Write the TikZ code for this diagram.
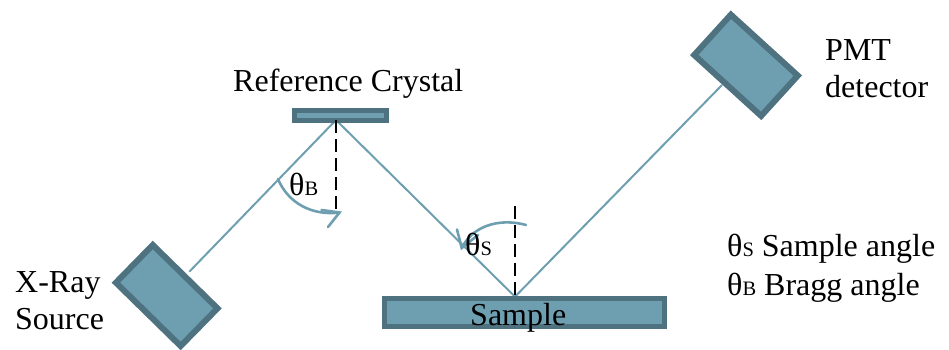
\documentclass[tikz,border=0pt]{standalone}
\usepackage{fontspec}
\setmainfont{Liberation Serif}
\definecolor{bfill}{HTML}{6E9FB0}
\definecolor{bedge}{HTML}{4F7280}
\newcommand{\subsz}[1]{{\fontsize{20.5}{20.5}\selectfont #1}}
\tikzset{
  device/.style={draw=bedge,fill=bfill,line width=6pt,inner sep=0pt,outer sep=0pt},
  flatdevice/.style={draw=bedge,fill=bfill,line width=5pt,inner sep=0pt,outer sep=0pt},
  beam/.style={draw=bfill,line width=2pt},
  normal/.style={draw=black,line width=2pt,dash pattern=on 13pt off 6pt},
  sweep/.style={draw=bfill,line width=2.6pt,line cap=round},
  lbl/.style={anchor=base west,inner sep=0pt,font=\fontsize{32}{32}\selectfont,text=black},
}
\begin{document}
\begin{tikzpicture}[x=1pt,y=-1pt]
\useasboundingbox (0,0) rectangle (949,349);
% named points of the beam
\coordinate (beamstart) at (189.3,271.7);
\coordinate (hitref) at (336,120);
\coordinate (hitsample) at (515,296.7);
\coordinate (beamend) at (722,85);
\coordinate (normrefend) at (336,210);
\coordinate (normsampletop) at (515,206);
% beams
\draw[beam] (beamstart) -- (hitref) -- (hitsample) -- (beamend);
% devices
\node[device,minimum width=90.6pt,minimum height=52.7pt,rotate=-44.4] (source) at (166.7,295.5) {};
\node[device,minimum width=90.5pt,minimum height=54.5pt,rotate=-42.3] (pmt) at (746,65.3) {};
\node[flatdevice,minimum width=92.3pt,minimum height=10pt] (crystal) at (340.3,115.2) {};
\node[flatdevice,minimum width=280pt,minimum height=27.7pt] (sample) at (524.5,312.3) {};
% normals
\draw[normal] (hitref) -- (normrefend);
\draw[normal] (normsampletop) -- (hitsample);
% angle arcs
\coordinate (arcBa) at (278,179);
\coordinate (arcBb) at (339.5,212.5);
\coordinate (arcSa) at (526,225);
\coordinate (arcSb) at (461.7,248);
\draw[sweep] (arcBa) .. controls (288,203) and (312,216) .. (arcBb);
\draw[sweep] (321.5,210) -- (arcBb) -- (328,227);
\draw[sweep] (arcSa) .. controls (505,219) and (475,222) .. (arcSb);
\draw[sweep] (457,229.5) -- (arcSb) -- (478,235);
% labels
\node[lbl] (lblcrystal) at (233,91) {Reference Crystal};
\node[lbl] (lblpmt) at (825,60) {PMT};
\node[lbl] (lbldet) at (825,97) {detector};
\node[lbl] (lblxray) at (15,292) {X-Ray};
\node[lbl] (lblsrc) at (15,329) {Source};
\node[lbl] (lblsample) at (470,325) {Sample};
\node[lbl] (lblthb) at (289,195) {θ\subsz{B}};
\node[lbl] (lblths) at (465,255) {θ\subsz{S}};
\node[lbl] (lblkeys) at (727,256) {θ\subsz{S} Sample angle};
\node[lbl] (lblkeyb) at (727,295) {θ\subsz{B} Bragg angle};
\end{tikzpicture}
\end{document}
